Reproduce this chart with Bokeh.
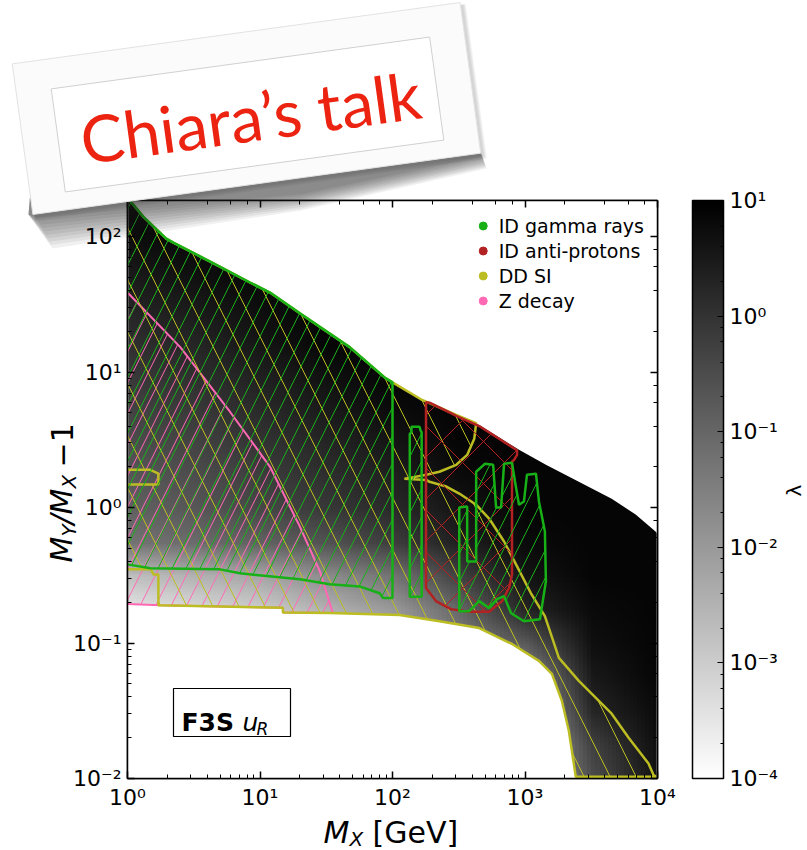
import math
import zlib
import struct
import base64
from bokeh.plotting import figure
from bokeh.models import (LogColorMapper, ColorBar, LogTicker, LogAxis, Range1d, GridBox)
from bokeh.palettes import Greys256
from bokeh.core.properties import value
from bokeh.embed import file_html
from bokeh.resources import INLINE

# ---------------- data ----------------
# upper edge of the allowed (coloured) region
upper_mx = [1.0, 1.32, 1.96, 2.22, 4.21, 8.41, 11.9, 20.0, 47.5, 88.5, 162.5, 303, 451, 901, 1438, 2547, 4508, 6839, 9660, 10000]
upper_r = [194, 140, 96.7, 90.3, 65.5, 45.9, 38.7, 27.2, 15.3, 9.03, 6.33, 4.83, 4.08, 2.67, 2.07, 1.55, 1.16, 0.89, 0.667, 0.64]
# lower edge of the allowed region
lower_mx = [1.0, 1.77, 14.9, 14.9, 33.6, 113, 226, 451, 798, 1274, 1596, 1897, 2142, 2417]
lower_r = [0.194, 0.190, 0.182, 0.168, 0.167, 0.161, 0.145, 0.129, 0.0984, 0.0738, 0.0592, 0.0375, 0.0225, 0.0102]

# ID gamma rays: three excluded islands
gam1_mx = [0.9, 0.9, 1.0, 1.32, 1.96, 2.22, 4.21, 8.41, 11.9, 20.0, 47.5, 88.5, 100, 100, 85, 80, 56.5, 33.6, 20.0, 7.07, 5.0, 1.49, 1.0, 0.9]
gam1_r = [0.381, 194, 194, 140, 96.7, 90.3, 65.5, 45.9, 38.7, 27.2, 15.3, 9.03, 8.4, 0.215, 0.215, 0.233, 0.262, 0.272, 0.296, 0.327, 0.350, 0.356, 0.381, 0.381]
gam2_mx = [135, 135, 139, 139, 160, 163, 166, 166]
gam2_r = [0.22, 3.5, 3.6, 3.95, 3.95, 3.7, 3.6, 0.22]
gam3_mx = [319, 319, 366, 366, 428, 428, 500, 575, 605, 660, 695, 798, 841, 901, 982, 1035, 1210, 1274, 1413, 1438, 1343, 1297, 982, 785, 695, 615, 536, 451, 379, 319]
gam3_r = [0.172, 1.0, 1.02, 0.40, 0.40, 1.84, 2.11, 2.07, 1.0, 1.0, 2.11, 2.14, 1.55, 1.05, 1.11, 1.75, 1.78, 1.11, 0.667, 0.286, 0.187, 0.15, 0.145, 0.166, 0.222, 0.211, 0.181, 0.204, 0.172, 0.172]

# ID anti-protons
red_mx = [179, 179, 213, 276, 379, 536, 671, 758, 798, 798, 827, 871, 871, 451, 303, 253, 190, 179]
red_r = [6.0, 0.255, 0.204, 0.178, 0.17, 0.17, 0.204, 0.255, 0.32, 2.18, 2.25, 2.45, 2.65, 4.0, 4.75, 5.2, 5.95, 6.0]

# DD SI (outer ring and a small hole)
dd_mx = [0.9, 1.0, 1.32, 1.96, 2.22, 4.21, 8.41, 11.9, 20.0, 47.5, 88.5, 162.5, 303, 428,
         414, 366, 303, 226, 180, 123, 180,
         190, 255, 319, 428, 536, 695, 871, 1109, 1413, 1802, 2547, 4508, 6053, 8551, 9330, 9800,
         2417, 2142, 1897, 1596, 1274, 798, 451, 226, 113, 33.6, 14.9, 14.9, 1.71, 1.71, 1.57, 1.5, 0.9]
dd_r = [194, 194, 140, 96.7, 90.3, 65.5, 45.9, 38.7, 27.2, 15.3, 9.03, 6.33, 4.83, 4.2,
        3.22, 2.45, 2.07, 1.84, 1.75, 1.63, 1.6,
        1.55, 1.43, 1.27, 1.05, 0.83, 0.562, 0.368, 0.233, 0.158, 0.0777, 0.0526, 0.0301, 0.020, 0.0129, 0.0106, 0.0103,
        0.0103, 0.0225, 0.0375, 0.0592, 0.0738, 0.0984, 0.129, 0.145, 0.161, 0.167, 0.168, 0.182, 0.19, 0.321, 0.321, 0.35, 0.35]
dd_hole_mx = [0.95, 0.95, 1.49, 1.71, 1.71]
dd_hole_r = [1.48, 1.90, 1.90, 1.78, 1.48]

# Z decay
z_mx = [0.9, 1.0, 2.5, 5.95, 11.9, 20, 28.3, 35.4, 14.9, 14.9, 1.77, 1.0, 0.9]
z_r = [38.7, 38.7, 15.3, 5.08, 2.0, 0.724, 0.338, 0.167, 0.168, 0.182, 0.19, 0.194, 0.194]

# lambda: log10(lambda) on a grid
grid_log_mx = [0, 0.5, 1, 1.5, 2, 2.5, 3, 3.5, 4]
grid_log_r = [-2, -1.75, -1.5, -1.25, -1, -0.75, -0.5, -0.25, 0, 0.25, 0.5, 0.75, 1, 1.25, 1.5, 1.75, 2, 2.25]
log_lambda = [  # one row per grid_log_r, one column per grid_log_mx
    [-3.75, -3.5, -3.25, -2.75, -2.25, -1.75, -2.5, -0.5, 0.7],
    [-3.75, -3.5, -3.25, -2.75, -2.25, -1.75, -2.5, -0.25, 0.75],
    [-3.75, -3.5, -3.25, -2.75, -2.25, -1.75, -2.25, 0.25, 0.8],
    [-3.75, -3.5, -3.25, -2.75, -2.25, -1.75, -1.75, 0.5, 0.9],
    [-3.75, -3.5, -3.25, -2.75, -2.25, -1.5, -0.75, 0.7, 0.9],
    [-3.5, -3.25, -3.0, -2.5, -2.0, -1.0, 0.3, 0.8, 0.9],
    [-2.75, -2.5, -2.25, -1.75, -1.25, -0.25, 0.6, 0.9, 0.9],
    [-1.25, -1.1, -0.9, -0.6, -0.2, 0.4, 0.8, 0.9, 0.9],
    [-0.9, -0.7, -0.4, -0.1, 0.2, 0.6, 0.9, 0.9, 0.9],
    [-0.7, -0.5, -0.2, 0.1, 0.4, 0.8, 0.9, 0.9, 0.9],
    [-0.5, -0.3, 0.0, 0.3, 0.6, 0.9, 0.9, 0.9, 0.9],
    [-0.3, -0.1, 0.2, 0.5, 0.8, 0.9, 0.9, 0.9, 0.9],
    [-0.1, 0.1, 0.4, 0.7, 0.9, 0.9, 0.9, 0.9, 0.9],
    [0.1, 0.3, 0.6, 0.9, 0.9, 0.9, 0.9, 0.9, 0.9],
    [0.3, 0.5, 0.75, 0.9, 0.9, 0.9, 0.9, 0.9, 0.9],
    [0.5, 0.7, 0.9, 0.9, 0.9, 0.9, 0.9, 0.9, 0.9],
    [0.75, 0.85, 0.9, 0.9, 0.9, 0.9, 0.9, 0.9, 0.9],
    [0.9, 0.9, 0.9, 0.9, 0.9, 0.9, 0.9, 0.9, 0.9],
]
lambda_low, lambda_high = 1e-4, 10

legend_names = ["ID gamma rays", "ID anti-protons", "DD SI", "Z decay"]
x_ticks = {1: "10⁰", 10: "10¹", 100: "10²", 1000: "10³", 10000: "10⁴"}
y_ticks = {0.01: "10⁻²", 0.1: "10⁻¹", 1: "10⁰", 10: "10¹", 100: "10²"}
cb_ticks = {0.0001: "10⁻⁴", 0.001: "10⁻³", 0.01: "10⁻²", 0.1: "10⁻¹", 1: "10⁰", 10: "10¹"}

# ---------------- styling ----------------
GREEN = "#17b017"
RED = "#b22222"
OLIVE = "#bcbd22"
PINK = "#ff69b4"
FONT = "DejaVu Sans"
W, H = 807, 850

p = figure(width=W, height=H, x_axis_type="log", y_axis_type="log",
           x_range=(1, 1e4), y_range=(1e-2, 185), output_backend="svg",
           toolbar_location=None, min_border_left=127, min_border_right=150,
           min_border_top=200, min_border_bottom=72, frame_align=False)
p.grid.visible = False
p.outline_line_color = "black"
p.outline_line_width = 1.5

mapper = LogColorMapper(palette=list(reversed(Greys256)), low=lambda_low, high=lambda_high)

# shading: the lambda grid as a small grey PNG, stretched (and smoothed) by the browser
lo, hi = math.log10(lambda_low), math.log10(lambda_high)
rows = []
for row in reversed(log_lambda):  # PNG rows go top to bottom
    rows.append(bytes(int(round(255 * (1 - (min(max(v, lo), hi) - lo) / (hi - lo)))) for v in row))
raw = b"".join(b"\x00" + r for r in rows)


def _chunk(tag, data):
    return struct.pack(">I", len(data)) + tag + data + struct.pack(">I", zlib.crc32(tag + data) & 0xFFFFFFFF)


png = (b"\x89PNG\r\n\x1a\n" + _chunk(b"IHDR", struct.pack(">IIBBBBB", len(log_lambda[0]), len(log_lambda), 8, 0, 0, 0, 0))
       + _chunk(b"IDAT", zlib.compress(raw)) + _chunk(b"IEND", b""))
url = "data:image/png;base64," + base64.b64encode(png).decode()
hx = (grid_log_mx[1] - grid_log_mx[0]) / 2
hy = (grid_log_r[1] - grid_log_r[0]) / 2
x0, x1 = 10 ** (grid_log_mx[0] - hx), 10 ** (grid_log_mx[-1] + hx)
y0, y1 = 10 ** (grid_log_r[0] - hy), 10 ** (grid_log_r[-1] + hy)
p.image_url(url=[url], x=x0, y=y0, w=x1 - x0, h=y1 - y0, anchor="bottom_left")

# white masks outside the allowed region
p.patch([0.5] + upper_mx + [2e4, 2e4, 0.5], [upper_r[0]] + upper_r + [upper_r[-1], 1e4, 1e4],
        fill_color="white", line_color=None)
p.patch([0.5] + lower_mx + [lower_mx[-1], 0.5], [lower_r[0]] + lower_r + [1e-4, 1e-4],
        fill_color="white", line_color=None)

hatch_common = dict(fill_color=None, hatch_weight=1.0)
p.patch(z_mx, z_r, line_color=PINK, line_width=2, hatch_pattern="/", hatch_color=PINK,
        hatch_scale=31, **hatch_common)
p.multi_polygons(xs=[[[dd_mx, dd_hole_mx]]], ys=[[[dd_r, dd_hole_r]]], line_color=OLIVE, line_width=2.5,
                 hatch_pattern="\\", hatch_color=OLIVE, hatch_scale=52, **hatch_common)
p.patch(red_mx, red_r, line_color=RED, line_width=2.5, hatch_pattern="x", hatch_color=RED,
        hatch_scale=42, **hatch_common)
p.multi_polygons(xs=[[[gam1_mx]], [[gam2_mx]], [[gam3_mx]]], ys=[[[gam1_r]], [[gam2_r]], [[gam3_r]]],
                 line_color=GREEN, line_width=2.5, hatch_pattern="/", hatch_color=GREEN,
                 hatch_scale=28, **hatch_common)

# legend (dot markers only; the dots sit outside the visible range)
for name, col in zip(legend_names, [GREEN, RED, OLIVE, PINK]):
    p.scatter([1e-3], [1e-4], marker="circle", size=11, color=col, legend_label=name)
lg = p.legend[0]
lg.location = "top_right"
lg.border_line_alpha = 0
lg.background_fill_alpha = 0
lg.label_text_font = FONT
lg.label_text_font_size = "19px"
lg.label_text_color = "black"
lg.glyph_height = 25
lg.glyph_width = 20
lg.label_height = 25
lg.spacing = 0
lg.label_standoff = 6
lg.margin = 9
lg.padding = 4

# axes
for ax in [p.xaxis[0], p.yaxis[0]]:
    ax.major_label_text_font = FONT
    ax.major_label_text_font_size = "22px"
    ax.major_label_text_color = "black"
    ax.major_tick_in = 7
    ax.major_tick_out = 0
    ax.minor_tick_in = 4
    ax.minor_tick_out = 0
    ax.axis_line_width = 1.5
    ax.major_tick_line_width = 1.5
    ax.major_label_standoff = 6
p.xaxis[0].major_label_overrides = x_ticks
p.yaxis[0].major_label_overrides = y_ticks
for side in ["above", "right"]:
    ax = LogAxis(major_label_text_font_size="2px", major_label_text_color=None, major_tick_in=7,
                 major_tick_out=0, minor_tick_in=4, minor_tick_out=0, axis_line_width=1.5,
                 major_label_standoff=0, major_tick_line_width=1.5)
    p.add_layout(ax, side)
# invisible spacer between the frame and the colour bar
p.add_layout(LogAxis(major_label_text_font_size="2px", major_label_text_color=None, major_tick_in=0,
                     major_tick_out=35, minor_tick_out=0, major_tick_line_alpha=0,
                     minor_tick_line_color=None, axis_line_color=None, major_label_standoff=0), "right")

cb = ColorBar(color_mapper=mapper, ticker=LogTicker(), width=31, height=578, padding=0, margin=0,
              major_label_overrides=cb_ticks, major_label_text_font=FONT,
              major_label_text_font_size="22px", major_label_text_color="black",
              bar_line_color="black", bar_line_width=1.5,
              major_tick_line_color="black", major_tick_in=6, minor_tick_line_color="black",
              minor_tick_in=3, label_standoff=6)
p.add_layout(cb, "right")

# ---------------- overlay in canvas pixels (labels, model box, slide card) ----------------
ov = figure(width=W, height=H, x_range=Range1d(0, W), y_range=Range1d(H, 0), output_backend="svg",
            toolbar_location=None, min_border=0, x_axis_location=None, y_axis_location=None,
            background_fill_alpha=0, border_fill_alpha=0, outline_line_color=None, frame_align=False)
ov.grid.visible = False


def txt(text, x, y, size, style="normal", angle=0.0, color="black", font=FONT, align="left",
        baseline="alphabetic"):
    ov.text(x=[x], y=[y], text=[text], text_font=value(font), text_font_size=f"{size}px",
            text_font_style=style, text_color=color, angle=angle, text_align=align,
            text_baseline=baseline)


# x axis label
txt("M", 323, 832, 30, "italic")
txt("X", 349, 838, 20, "italic")
txt("[GeV]", 372, 832, 30)
# y axis label, reading upwards
a = math.pi / 2
txt("M", 61, 562, 30, "italic", a)
txt("Y", 68, 536, 20, "italic", a)
txt("/", 61, 524, 30, "italic", a)
txt("M", 61, 514, 30, "italic", a)
txt("X", 68, 488, 20, "italic", a)
txt("−1", 61, 467, 30, "normal", a)
# colour bar label
txt("λ", 793, 490, 20, "normal", a, align="center", baseline="middle")

# model box
ov.quad(left=[173], right=[290], top=[688], bottom=[736], fill_color="white", line_color="black",
        line_width=1.2)
txt("F3S", 181, 722, 25, "bold")
txt("u", 242, 722, 25, "italic")
txt("R", 256, 728, 17, "italic")


def rot_rect(cx, cy, w, h, ang):
    c, s = math.cos(ang), math.sin(ang)
    pts = [(-w / 2, -h / 2), (w / 2, -h / 2), (w / 2, h / 2), (-w / 2, h / 2)]
    return ([cx + px * c + py * s for px, py in pts], [cy - px * s + py * c for px, py in pts])


ang = math.radians(7.8)
# soft shadow, heaviest under the lower-left corner of the card
n_sh = 10
for i in range(n_sh):
    t = (i + 1) / n_sh
    ov.patch([30, 470, 482 + 4 * t, 300, 36 + 16 * t, 28],
             [190, 130, 154 + 14 * t, 192 + 18 * t, 214 + 34 * t, 214],
             fill_color="#202020", fill_alpha=0.065, line_color=None)
for i in range(4):
    t = (i + 1) / 4
    xs, ys = rot_rect(248 + 2 * t, 110 + 2 * t, 452 + 4 * t, 152 + 4 * t, ang)
    ov.patch(xs, ys, fill_color="#303030", fill_alpha=0.05, line_color=None)
xs, ys = rot_rect(246, 108, 452, 152, ang)
ov.patch(xs, ys, fill_color="#fbfbfb", line_color="#e2e2e2", line_width=1)
xs, ys = rot_rect(247, 114, 382, 104, ang)
ov.patch(xs, ys, fill_color="white", line_color="#d0d0d0", line_width=1)
txt("Chiara’s talk", 250, 116, 65, "normal", ang, color="#eb2310", font="Lato", align="center",
    baseline="middle")

layout = GridBox(children=[(p, 0, 0), (ov, 0, 0)])
open("out.html", "w").write(file_html(layout, INLINE))
